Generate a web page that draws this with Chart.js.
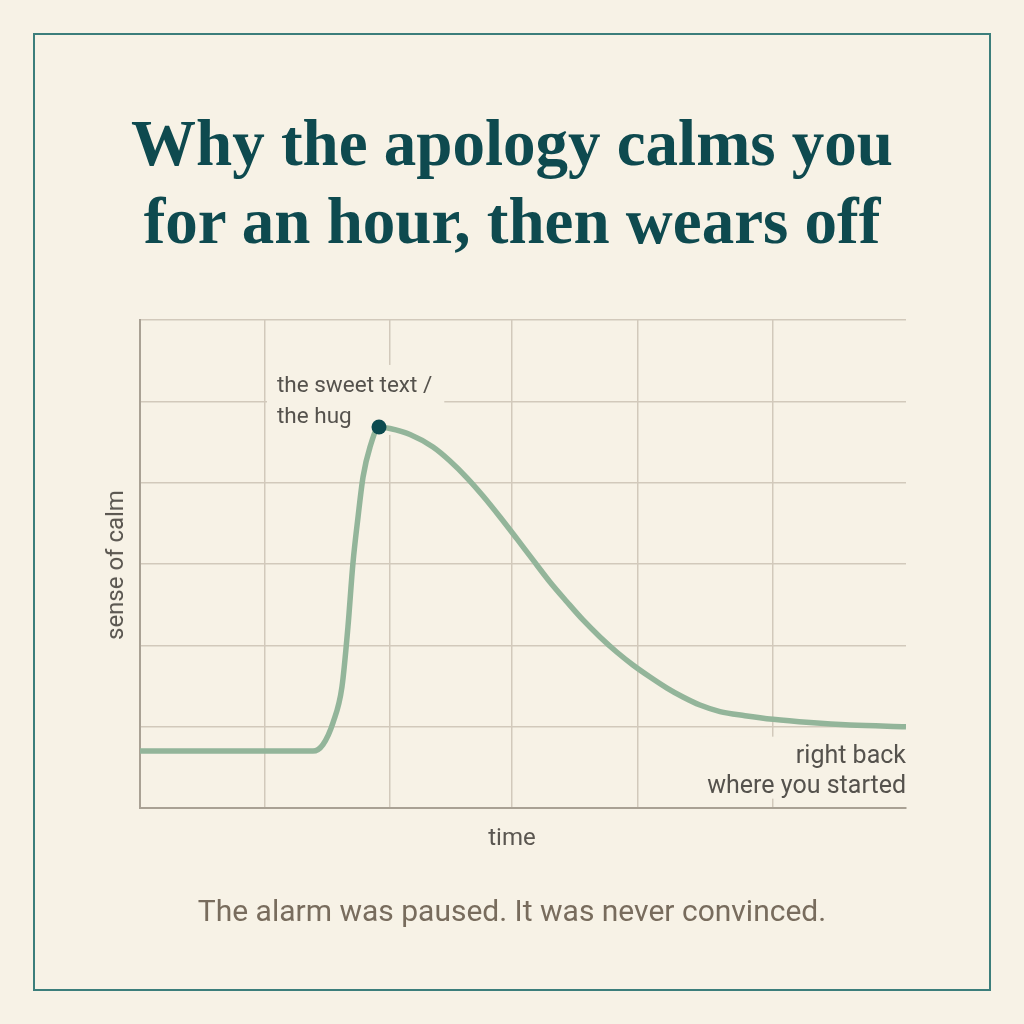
<!DOCTYPE html>
<html>
<head>
<meta charset="utf-8">
<script src="https://cdn.jsdelivr.net/npm/chart.js@4.4.1/dist/chart.umd.min.js"></script>
<style>
  html, body { margin: 0; padding: 0; background: #f7f2e6; }
  #wrap { position: relative; width: 1024px; height: 1024px; background: #f7f2e6; overflow: hidden; }
  #frame { position: absolute; left: 33px; top: 33px; width: 958px; height: 958px; border: 2px solid #3c7e7b; box-sizing: border-box; }
  #title { position: absolute; left: 0; top: 104px; width: 1024px; text-align: center;
    font-family: "Liberation Serif", "DejaVu Serif", serif; font-weight: bold; font-size: 65px;
    line-height: 78px; color: #0e4a4f; }
  #caption { position: absolute; left: 0; top: 893px; width: 1024px; text-align: center;
    font-family: Roboto, "Noto Sans", sans-serif; font-size: 30px; color: #786c5d; }
  .axis { position: absolute; font-family: Roboto, "Noto Sans", sans-serif; font-size: 24px; color: #5a5650; }
  #ylab { left: 115px; top: 565px; transform: translate(-50%, -50%) rotate(-90deg); white-space: nowrap; }
  #xlab { left: 512px; top: 837px; transform: translate(-50%, -50%); }
  canvas { position: absolute; left: 0; top: 0; }
</style>
</head>
<body>
<div id="wrap">
  <div id="frame"></div>
  <div id="title">Why the apology calms you<br>for an hour, then wears off</div>
  <canvas id="myChart" width="1024" height="1024"></canvas>
  <div class="axis" id="ylab">sense of calm</div>
  <div class="axis" id="xlab">time</div>
  <div id="caption">The alarm was paused. It was never convinced.</div>
</div>
<script>
// time (arbitrary units) and sense of calm
const times = [0, 0.86, 1.355, 1.433, 1.512, 1.582, 1.629, 1.668, 1.708, 1.747, 1.802, 1.872,
  1.958, 2.115, 2.295, 2.428, 2.561, 2.687, 2.820, 2.953, 3.078, 3.211, 3.345, 3.470, 3.603, 3.736,
  3.861, 3.995, 4.128, 4.253, 4.386, 4.543, 4.739, 4.958, 5.248, 5.561, 6.0];
const calm = [0.70, 0.70, 0.70, 0.78, 1.05, 1.49, 2.23, 3.01, 3.58, 4.07, 4.44, 4.685,
  4.666, 4.593, 4.439, 4.267, 4.06, 3.836, 3.578, 3.308, 3.05, 2.779, 2.533, 2.312, 2.103, 1.915,
  1.759, 1.611, 1.475, 1.365, 1.266, 1.185, 1.135, 1.09, 1.05, 1.02, 1.00];
const peakIndex = 11;
const xGridTicks = [0, 0.98, 1.96, 2.91, 3.90, 4.96];
const peakLabel = ["the sweet text /", "the hug"];
const endLabel = ["right back", "where you started"];

const bg = "#f7f2e6";

function renderChart() {
  const ctx = document.getElementById("myChart");

  const points = [];
  for (let i = 0; i < times.length; i++) {
    points.push({ x: times[i], y: calm[i] });
  }

  function anchors(chart) {
    const xs = chart.scales.x;
    const ys = chart.scales.y;
    const last = times.length - 1;
    return {
      px: xs.getPixelForValue(times[peakIndex]),
      py: ys.getPixelForValue(calm[peakIndex]),
      ex: xs.getPixelForValue(times[last]),
      ey: ys.getPixelForValue(calm[last]),
    };
  }

  const labelPlugin = {
    id: "labels",
    beforeDatasetsDraw(chart) {
      // paper-coloured boxes behind the notes, under the line
      const c = chart.ctx;
      const a = anchors(chart);
      c.save();
      c.fillStyle = bg;
      c.font = "22.5px Roboto, 'Noto Sans', sans-serif";
      let w = Math.max(...peakLabel.map(t => c.measureText(t).width));
      c.fillRect(a.px - 112, a.py - 62, w + 22, 70);
      c.font = "25px Roboto, 'Noto Sans', sans-serif";
      w = Math.max(...endLabel.map(t => c.measureText(t).width));
      c.fillRect(a.ex - w - 8, a.ey + 10, w + 8, 62);
      c.restore();
    },
    afterDatasetsDraw(chart) {
      const c = chart.ctx;
      const a = anchors(chart);
      c.save();
      c.textBaseline = "alphabetic";
      c.fillStyle = "#55524d";

      c.font = "22.5px Roboto, 'Noto Sans', sans-serif";
      c.textAlign = "left";
      c.fillText(peakLabel[0], a.px - 102, a.py - 35);
      c.fillText(peakLabel[1], a.px - 102, a.py - 4);

      c.font = "25px Roboto, 'Noto Sans', sans-serif";
      c.textAlign = "right";
      c.fillText(endLabel[0], a.ex, a.ey + 36);
      c.fillText(endLabel[1], a.ex, a.ey + 66);

      // peak dot on top
      c.beginPath();
      c.arc(a.px, a.py, 7.5, 0, Math.PI * 2);
      c.fillStyle = "#0c4a4f";
      c.fill();
      c.restore();
    }
  };

  new Chart(ctx, {
    type: "line",
    data: {
      datasets: [
        {
          label: "sense of calm",
          data: points,
          borderColor: "#93b59a",
          borderWidth: 5.5,
          pointRadius: 0,
          fill: false,
          cubicInterpolationMode: "monotone",
        },
      ],
    },
    options: {
      responsive: false,
      animation: false,
      layout: { padding: { left: 140, right: 118, top: 320, bottom: 216 } },
      plugins: { legend: { display: false }, tooltip: { enabled: false } },
      scales: {
        x: {
          type: "linear",
          min: 0,
          max: 6,
          afterBuildTicks: (scale) => {
            scale.ticks = xGridTicks.map(v => ({ value: v }));
          },
          ticks: { display: false },
          grid: { color: "#d2c9bb", lineWidth: 1.5, drawTicks: false },
          border: { display: true, color: "#a9a194", width: 2 },
        },
        y: {
          min: 0,
          max: 6,
          ticks: { display: false, stepSize: 1 },
          grid: { color: "#d2c9bb", lineWidth: 1.5, drawTicks: false },
          border: { display: true, color: "#a9a194", width: 2 },
        },
      },
    },
    plugins: [labelPlugin],
  });
}

renderChart();
</script>
</body>
</html>
